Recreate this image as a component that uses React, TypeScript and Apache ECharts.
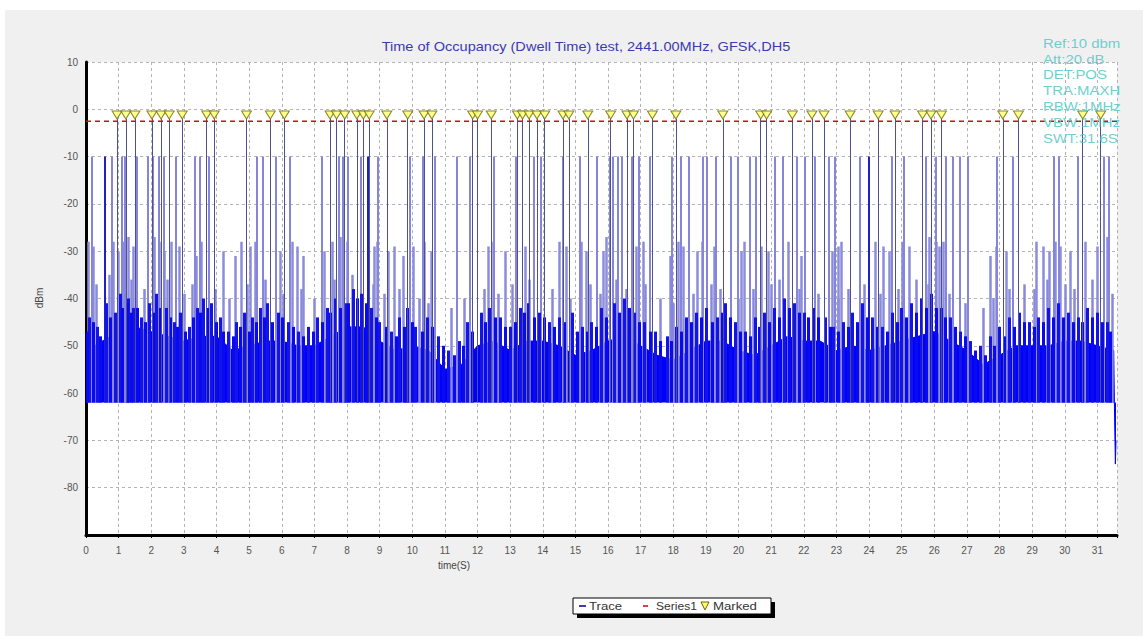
import React, { useEffect, useRef } from "react";
import * as echarts from "echarts";

const TITLE = "Time of Occupancy (Dwell Time) test, 2441.00MHz, GFSK,DH5";
const INFO_LINES = ["Ref:10 dbm", "Att:20 dB", "DET:POS", "TRA:MAXH", "RBW:1MHz", "VBW:1MHz", "SWT:31.6S"];
const LEGEND_ITEMS = ["Trace", "Series1", "Marked"];
const X_NAME = "time(S)";
const Y_NAME = "dBm";

const X_MIN = 0;
const X_MAX = 31.6;
const Y_MIN = -90;
const Y_MAX = 10;

const NOISE_FLOOR = -62;
const THRESHOLD = -2.5;
const MARKER_LEVEL = -1.2;
const PULSE_HIGH = -10;

// upper edge of the dense noise band, every 0.5 s
const envelopeTimes = [
  0, 0.5, 1, 1.5, 2, 2.5, 3, 3.5, 4, 4.5, 5, 5.5, 6, 6.5, 7, 7.5, 8, 8.5, 9, 9.5,
  10, 10.5, 11, 11.5, 12, 12.5, 13, 13.5, 14, 14.5, 15, 15.5, 16, 16.5, 17, 17.5, 18, 18.5, 19, 19.5,
  20, 20.5, 21, 21.5, 22, 22.5, 23, 23.5, 24, 24.5, 25, 25.5, 26, 26.5, 27, 27.5, 28, 28.5, 29, 29.5,
  30, 30.5, 31, 31.5,
];
const envelopeValues = [
  -51, -49, -47, -46, -47, -48, -49, -48, -48, -51, -50, -49, -49, -50, -50, -48, -46, -46, -49, -51,
  -50, -51, -55, -54, -50, -49, -51, -49, -49, -50, -52, -51, -49, -48, -50, -52, -53, -51, -49, -49,
  -51, -52, -50, -48, -49, -49, -51, -50, -51, -50, -49, -48, -47, -49, -51, -54, -52, -50, -50, -50,
  -49, -49, -50, -51,
];
// end of sweep: trace drops
const tailTimes = [31.52, 31.55, 31.57];
const tailValues = [-62, -75, -70];

// marked hops (reach the threshold)
const markerTimes = [
  0.95, 1.22, 1.5, 2.02, 2.3, 2.55, 2.95, 3.7, 3.93, 4.92, 5.65, 6.08, 7.48, 7.68, 7.93, 8.3, 8.5, 8.68,
  9.22, 9.86, 10.36, 10.6, 11.85, 12.0, 12.42, 13.22, 13.38, 13.58, 13.82, 14.06, 14.62, 14.8, 15.38,
  16.08, 16.58, 16.78, 17.36, 18.08, 19.52, 20.68, 20.86, 21.65, 22.25, 22.62, 23.42, 24.28, 24.8,
  25.64, 25.9, 26.22, 28.1, 28.58, 30.55, 31.1,
];

// hops reaching about -10 dBm
const pulse10Times = [
  0.18, 0.79, 1.1, 1.19, 1.57, 1.9, 2.06, 2.24, 2.37, 2.75, 3.32, 3.49, 3.76, 5.23, 5.43, 5.82, 6.26,
  7.24, 7.75, 7.86, 8.01, 8.42, 8.94, 9.92, 10.33, 10.69, 11.36, 11.77, 12.49, 13.16, 13.73, 13.94,
  14.61, 15.12, 15.64, 16.05, 16.15, 16.31, 16.41, 16.72, 16.93, 17.29, 17.96, 18.22, 18.47, 18.89,
  19.04, 19.3, 19.76, 19.97, 20.33, 20.54, 21.1, 21.36, 21.77, 22.03, 22.34, 22.75, 22.96, 23.73,
  24.71, 25.07, 25.74, 26.05, 26.36, 26.57, 26.77, 27.03, 27.91, 28.42, 29.66, 29.81, 30.4, 31.2, 31.35,
];
// darker hops reaching about -10 dBm
const darkPulse10Times = [0.57, 8.63, 23.99];

// hops reaching about -28 dBm
const pulse28 = [
  [0.07, -28], [0.23, -29], [0.85, -28], [1.0, -30], [1.15, -28], [1.31, -27], [1.46, -29], [2.08, -27],
  [2.24, -28], [2.39, -30], [2.6, -28], [2.86, -29], [3.37, -31], [3.53, -28], [4.2, -30], [4.56, -31],
  [4.76, -28], [5.02, -29], [5.18, -28], [5.95, -30], [6.31, -28], [6.46, -29], [6.67, -31], [7.29, -30],
  [7.55, -28], [7.8, -27], [8.01, -28], [8.84, -29], [8.94, -28], [9.25, -30], [9.45, -29], [9.71, -31],
  [10.02, -29], [10.38, -28], [10.59, -30], [12.34, -29], [12.49, -28], [12.86, -30], [13.47, -29],
  [14.51, -28], [14.71, -29], [15.18, -28], [15.33, -30], [15.95, -27], [15.85, -30], [16.88, -29],
  [17.08, -28], [17.91, -31], [18.16, -28], [18.32, -29], [18.73, -30], [18.89, -28], [19.25, -29],
  [20.07, -30], [20.18, -28], [20.69, -29], [20.9, -30], [21.52, -28], [21.93, -31], [22.86, -30],
  [23.06, -29], [23.16, -28], [24.2, -28], [24.45, -29], [24.61, -30], [25.02, -28], [25.23, -29],
  [25.85, -27], [26.05, -28], [26.15, -29], [26.26, -28], [27.7, -31], [27.91, -29], [28.22, -30],
  [29.14, -28], [29.35, -29], [29.51, -30], [29.71, -28], [29.87, -29], [30.18, -30], [30.64, -28],
  [31.0, -29], [31.31, -27],
];

// hops reaching about -38 dBm
const pulse38 = [
  [0.3, -37], [0.7, -35], [1.4, -36], [1.8, -38], [2.5, -36], [3.0, -39], [3.25, -37], [3.95, -38],
  [4.4, -40], [4.95, -37], [5.5, -36], [6.05, -39], [6.6, -38], [7.0, -40], [7.6, -36], [8.15, -35],
  [8.8, -37], [9.15, -39], [9.6, -38], [10.2, -40], [10.5, -41], [11.2, -42], [11.6, -40], [12.2, -38],
  [12.65, -39], [13.05, -37], [13.6, -36], [14.3, -38], [14.85, -40], [15.45, -37], [15.75, -39],
  [16.25, -36], [16.55, -38], [17.15, -37], [17.6, -40], [18.0, -41], [18.6, -39], [19.15, -37],
  [19.45, -38], [20.0, -40], [20.45, -38], [21.0, -37], [21.25, -36], [21.85, -38], [22.45, -39],
  [23.05, -40], [23.35, -38], [23.85, -37], [24.35, -39], [24.9, -38], [25.45, -36], [25.8, -37],
  [26.45, -39], [26.95, -41], [27.5, -42], [27.8, -40], [28.3, -38], [28.75, -37], [29.05, -38],
  [29.45, -36], [30.0, -37], [30.3, -38], [30.85, -36], [31.45, -39],
];

// short dense peaks just above the noise band
const minorPeaks = [
  [0.1, -44], [0.35, -46], [0.62, -41], [0.9, -43], [1.05, -39], [1.3, -40], [1.45, -42], [1.7, -44],
  [1.95, -41], [2.15, -39], [2.45, -42], [2.7, -45], [2.9, -43], [3.15, -46], [3.4, -42], [3.6, -40],
  [3.85, -41], [4.1, -44], [4.35, -47], [4.6, -45], [4.85, -43], [5.1, -44], [5.35, -42], [5.55, -41],
  [5.9, -43], [6.2, -45], [6.5, -47], [6.8, -46], [7.1, -44], [7.4, -42], [7.65, -40], [7.95, -41],
  [8.2, -38], [8.45, -39], [8.75, -42], [9.0, -45], [9.35, -47], [9.6, -44], [9.85, -42], [10.1, -46],
  [10.45, -44], [10.8, -48], [11.1, -51], [11.45, -49], [11.7, -45], [12.1, -43], [12.35, -42],
  [12.7, -44], [13.0, -46], [13.3, -42], [13.55, -41], [13.9, -43], [14.2, -45], [14.5, -44],
  [14.9, -43], [15.2, -46], [15.5, -45], [15.8, -42], [16.2, -41], [16.5, -40], [16.8, -43],
  [17.1, -45], [17.45, -47], [17.8, -48], [18.1, -46], [18.4, -44], [18.7, -43], [19.0, -42],
  [19.35, -44], [19.6, -41], [19.9, -45], [20.2, -47], [20.5, -44], [20.8, -43], [21.1, -42],
  [21.4, -40], [21.7, -41], [22.0, -43], [22.3, -42], [22.65, -44], [22.9, -46], [23.2, -45],
  [23.5, -43], [23.8, -41], [24.1, -44], [24.4, -46], [24.7, -43], [25.0, -42], [25.3, -41],
  [25.6, -40], [25.9, -39], [26.2, -42], [26.5, -44], [26.8, -47], [27.1, -49], [27.4, -50],
  [27.7, -48], [28.0, -46], [28.3, -44], [28.6, -43], [28.9, -45], [29.2, -44], [29.5, -42],
  [29.8, -41], [30.1, -43], [30.4, -44], [30.7, -42], [31.0, -43], [31.3, -45],
];

// more short peaks in between, making the band's top edge ragged
const lowPeaks = [
  [0.05, -47], [0.22, -45], [0.45, -48], [0.75, -44], [1.12, -42], [1.25, -41], [1.38, -43], [1.58, -42],
  [1.82, -45], [2.05, -43], [2.28, -42], [2.58, -44], [2.8, -46], [3.05, -47], [3.28, -44], [3.5, -43],
  [3.72, -42], [4.0, -45], [4.22, -47], [4.5, -48], [4.72, -46], [5.0, -47], [5.22, -45], [5.45, -44],
  [5.7, -45], [6.0, -44], [6.35, -46], [6.65, -48], [6.95, -47], [7.25, -45], [7.5, -43], [7.8, -42],
  [8.05, -41], [8.32, -40], [8.6, -41], [8.9, -44], [9.2, -46], [9.5, -48], [9.75, -46], [10.0, -45],
  [10.3, -47], [10.6, -46], [10.95, -50], [11.3, -52], [11.55, -50], [11.85, -47], [12.25, -45],
  [12.55, -44], [12.85, -46], [13.15, -45], [13.42, -43], [13.75, -44], [14.05, -44], [14.35, -46],
  [14.65, -45], [15.05, -47], [15.35, -47], [15.65, -46], [15.95, -44], [16.35, -43], [16.65, -42],
  [16.95, -45], [17.3, -47], [17.6, -49], [17.95, -49], [18.25, -47], [18.55, -45], [18.85, -44],
  [19.2, -45], [19.5, -43], [19.75, -44], [20.05, -47], [20.35, -48], [20.65, -46], [20.95, -45],
  [21.25, -44], [21.55, -42], [21.85, -43], [22.15, -44], [22.45, -44], [22.8, -46], [23.05, -47],
  [23.35, -46], [23.65, -45], [23.95, -44], [24.25, -46], [24.55, -47], [24.85, -45], [25.15, -44],
  [25.45, -43], [25.75, -42], [26.05, -42], [26.35, -44], [26.65, -46], [26.95, -48], [27.25, -51],
  [27.55, -52], [27.85, -50], [28.15, -48], [28.45, -46], [28.75, -45], [29.05, -46], [29.35, -45],
  [29.65, -44], [29.95, -44], [30.25, -45], [30.55, -45], [30.85, -44], [31.15, -45], [31.4, -47],
];

const FONT = "Liberation Sans, Arial, sans-serif";

function spikes(list: number[][], color: string, width: number, z: number) {
  return {
    type: "lines",
    coordinateSystem: "cartesian2d",
    z,
    silent: true,
    lineStyle: { color, width, opacity: 1 },
    data: list.map(([t, v]) => ({ coords: [[t, NOISE_FLOOR], [t, v]] })),
  };
}

export default function App() {
  const ref = useRef<HTMLDivElement>(null);
  useEffect(() => {
    if (!ref.current) return;
    const chart = echarts.init(ref.current, null, { renderer: "svg" });
    const baseData = envelopeTimes
      .map((t, i) => [t, envelopeValues[i]])
      .concat(tailTimes.map((t, i) => [t, tailValues[i]]));

    const graphic: any[] = [
      { type: "rect", z: -10, silent: true, shape: { x: 5, y: 10, width: 1138, height: 626 }, style: { fill: "#f0f0f0" } },
      {
        type: "text", x: 586, y: 47, z: 10, scaleX: 1.12,
        style: { text: TITLE, fill: "#3b3bb0", font: `13px ${FONT}`, align: "center", verticalAlign: "middle" },
      },
      {
        type: "text", x: 454, y: 565, z: 10,
        style: { text: X_NAME, fill: "#444", font: `10px ${FONT}`, align: "center", verticalAlign: "middle" },
      },
      {
        type: "text", x: 39, y: 298, rotation: Math.PI / 2, z: 10,
        style: { text: Y_NAME, fill: "#444", font: `10px ${FONT}`, align: "center", verticalAlign: "middle" },
      },
      // legend box
      { type: "rect", z: 20, shape: { x: 577, y: 602, width: 198, height: 16 }, style: { fill: "#000" } },
      { type: "rect", z: 21, shape: { x: 573, y: 598, width: 198, height: 16 }, style: { fill: "#fff", stroke: "#000", lineWidth: 1 } },
      { type: "line", z: 22, shape: { x1: 579, y1: 606, x2: 586, y2: 606 }, style: { stroke: "#000080", lineWidth: 1.5 } },
      { type: "text", z: 22, x: 589, y: 606, scaleX: 1.2, style: { text: LEGEND_ITEMS[0], fill: "#333", font: `11px ${FONT}`, verticalAlign: "middle" } },
      { type: "line", z: 22, shape: { x1: 643, y1: 606, x2: 648, y2: 606 }, style: { stroke: "#cc0000", lineWidth: 1.5 } },
      { type: "text", z: 22, x: 656, y: 606, scaleX: 1.1, style: { text: LEGEND_ITEMS[1], fill: "#333", font: `11px ${FONT}`, verticalAlign: "middle" } },
      { type: "polygon", z: 22, shape: { points: [[701, 602], [709, 602], [705, 610]] }, style: { fill: "#ffff66", stroke: "#666600", lineWidth: 1 } },
      { type: "text", z: 22, x: 713, y: 606, scaleX: 1.2, style: { text: LEGEND_ITEMS[2], fill: "#333", font: `11px ${FONT}`, verticalAlign: "middle" } },
    ];
    INFO_LINES.forEach((line, i) => {
      graphic.push({
        type: "text", z: 30, x: 1043, y: 43 + i * 15.9, scaleX: 1.15,
        style: { text: line, fill: "#5ccaca", opacity: 0.9, font: `13px ${FONT}`, verticalAlign: "middle" },
      });
    });

    const option: any = {
      animation: false,
      backgroundColor: "#ffffff",
      graphic,
      grid: {
        left: 86, top: 62, right: 31, bottom: 107,
        show: true, backgroundColor: "#ffffff", borderWidth: 0,
      },
      xAxis: {
        type: "value", min: X_MIN, max: X_MAX, interval: 1,
        axisLine: { show: true, onZero: false, lineStyle: { color: "#000", width: 3 } },
        axisTick: { show: true, length: 3, lineStyle: { color: "#000" } },
        minorTick: { show: true, splitNumber: 5, length: 2, lineStyle: { color: "#000" } },
        axisLabel: {
          color: "#555", fontSize: 10, fontFamily: FONT, margin: 10, showMaxLabel: false,
          formatter: (v: number) => (Number.isInteger(v) ? String(v) : ""),
        },
        splitLine: { show: true, lineStyle: { color: "#b4b4b4", type: [3, 3], width: 1 } },
      },
      yAxis: {
        type: "value", min: Y_MIN, max: Y_MAX, interval: 10,
        axisLine: { show: true, onZero: false, lineStyle: { color: "#000", width: 3 } },
        axisTick: { show: false },
        axisLabel: { color: "#555", fontSize: 10, fontFamily: FONT, margin: 8, showMinLabel: false },
        splitLine: { show: true, lineStyle: { color: "#b4b4b4", type: [3, 3], width: 1 } },
      },
      series: [
        {
          name: "Trace",
          type: "line",
          data: baseData,
          showSymbol: false,
          z: 2,
          silent: true,
          lineStyle: { color: "#0000ff", width: 1 },
          areaStyle: { color: "#0000ff", opacity: 1, origin: NOISE_FLOOR },
        },
        spikes(pulse38, "#8888dc", 2.5, 3),
        spikes(pulse28, "#8c8cdc", 2.5, 3),
        spikes(pulse10Times.map((t) => [t, PULSE_HIGH]), "#8585dc", 2, 3),
        spikes(darkPulse10Times.map((t) => [t, PULSE_HIGH]), "#2020c8", 2, 4),
        spikes(minorPeaks, "#1414e6", 3, 4),
        spikes(lowPeaks, "#0a0af0", 3, 4),
        spikes(markerTimes.map((t) => [t, THRESHOLD + 0.5]), "#50508a", 1, 5),
        {
          name: "Series1",
          type: "line",
          data: [[X_MIN, THRESHOLD], [X_MAX, THRESHOLD]],
          showSymbol: false,
          z: 6,
          silent: true,
          lineStyle: { color: "#cc1010", width: 1.5, type: [5, 4] },
        },
        {
          name: "Marked",
          type: "scatter",
          data: markerTimes.map((t) => [t, MARKER_LEVEL]),
          symbol: "triangle",
          symbolRotate: 180,
          symbolSize: [10, 8],
          z: 7,
          silent: true,
          itemStyle: { color: "#ffff70", borderColor: "#6b6b00", borderWidth: 1 },
        },
      ],
    };
    chart.setOption(option);
    return () => chart.dispose();
  }, []);

  return (
    <div
      ref={ref}
      style={{ position: "absolute", left: 0, top: 0, width: 1148, height: 642 }}
    />
  );
}
